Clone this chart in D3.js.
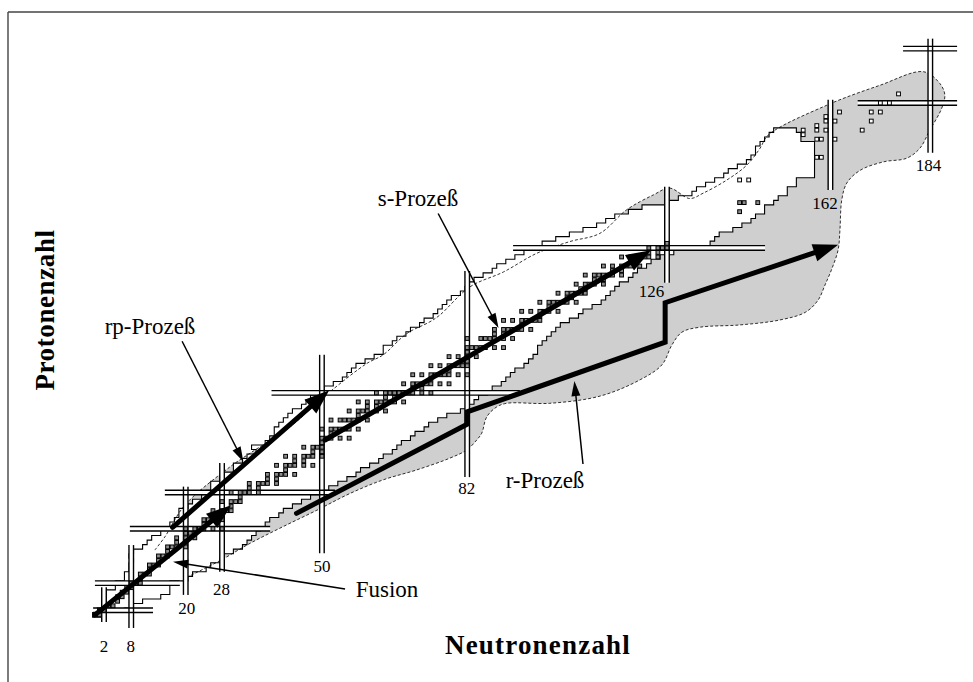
<!DOCTYPE html>
<html>
<head>
<meta charset="utf-8">
<script src="https://cdn.jsdelivr.net/npm/d3@7"></script>
<style>
  body { margin: 0; background: #fff; }
  svg { display: block; }
</style>
</head>
<body>
<div id="chart"></div>
<script>
// known nuclei: for each proton number Z the lightest and heaviest known N
const knownZ = [1, 2, 3, 4, 5, 6, 7, 8, 9, 10, 11, 12, 13, 14, 15, 16, 17, 18, 19, 20,
  21, 22, 23, 24, 25, 26, 27, 28, 29, 30, 31, 32, 33, 34, 35, 36, 37, 38, 39, 40,
  41, 42, 43, 44, 45, 46, 47, 48, 49, 50, 51, 52, 53, 54, 55, 56, 57, 58, 59, 60,
  61, 62, 63, 64, 65, 66, 67, 68, 69, 70, 71, 72, 73, 74, 75, 76, 77, 78, 79, 80,
  81, 82, 83, 84, 85, 86, 87, 88, 89, 90, 91, 92, 93, 94, 95, 96, 97, 98, 99, 100,
  101, 102, 103, 104, 105, 106, 107, 108];
const knownNmin = [0, 1, 2, 2, 3, 3, 5, 5, 7, 7, 8, 8, 9, 8, 9, 11, 12, 13, 15, 15,
  17, 18, 19, 19, 21, 22, 24, 25, 26, 26, 28, 29, 31, 31, 33, 34, 36, 35, 38, 39,
  40, 40, 41, 42, 43, 44, 46, 47, 48, 51, 51, 53, 55, 56, 57, 58, 60, 62, 64, 64,
  66, 67, 69, 70, 72, 73, 75, 76, 77, 78, 79, 81, 82, 83, 84, 86, 88, 89, 91, 93,
  95, 97, 99, 102, 105, 108, 111, 113, 115, 118, 121, 126, 129, 132, 133, 135, 137, 139, 140, 142,
  144, 145, 146, 146, 147, 148, 149, 150];
const knownNmax = [2, 6, 8, 10, 14, 16, 16, 16, 20, 21, 24, 25, 27, 28, 30, 32, 33, 34, 35, 36,
  37, 38, 40, 41, 43, 45, 47, 49, 51, 53, 55, 57, 58, 60, 62, 63, 65, 66, 67, 69,
  70, 72, 73, 75, 77, 80, 82, 83, 84, 86, 87, 89, 90, 91, 92, 94, 95, 96, 97, 97,
  98, 99, 100, 101, 102, 104, 106, 107, 109, 111, 112, 113, 114, 115, 117, 118, 119, 121, 122, 124,
  127, 131, 135, 136, 137, 140, 142, 144, 145, 147, 147, 149, 150, 152, 152, 154, 154, 158, 158, 158,
  158, 158, 158, 158, 158, 155, 155, 154];

// single known nuclei outside the main band (superheavy)
const islandN = [142, 144, 156, 156, 159, 159, 161, 161, 163, 159, 160, 163, 161, 159, 160, 164, 171, 173, 171, 169, 177, 173, 175];
const islandZ = [97, 97, 107, 108, 108, 109, 110, 111, 110, 106, 106, 106, 108, 102, 102, 112, 112, 112, 110, 108, 116, 114, 114];

// stable (and long lived) nuclei: N values for each Z
const stableZ = [1, 2, 3, 4, 5, 6, 7, 8, 9, 10, 11, 12, 13, 14, 15, 16, 17, 18, 19, 20,
  21, 22, 23, 24, 25, 26, 27, 28, 29, 30, 31, 32, 33, 34, 35, 36, 37, 38, 39, 40,
  41, 42, 44, 45, 46, 47, 48, 49, 50, 51, 52, 53, 54, 55, 56, 57, 58, 59, 60,
  62, 63, 64, 65, 66, 67, 68, 69, 70, 71, 72, 73, 74, 75, 76, 77, 78, 79, 80,
  81, 82, 83, 90, 92];
const stableN = [[0, 1], [1, 2], [3, 4], [5], [5, 6], [6, 7], [7, 8], [8, 9, 10], [10], [10, 11, 12],
  [12], [12, 13, 14], [14], [14, 15, 16], [16], [16, 17, 18, 20], [18, 20], [18, 20, 22], [20, 21, 22], [20, 22, 23, 24, 26, 28],
  [24], [24, 25, 26, 27, 28], [27, 28], [26, 28, 29, 30], [30], [28, 30, 31, 32], [32], [30, 32, 33, 34, 36], [34, 36], [34, 36, 37, 38, 40],
  [38, 40], [38, 40, 41, 42, 44], [42], [40, 42, 43, 44, 46, 48], [44, 46], [42, 44, 46, 47, 48, 50], [48, 50], [46, 48, 49, 50], [50], [50, 51, 52, 54, 56],
  [52], [50, 52, 53, 54, 55, 56, 58], [52, 54, 55, 56, 57, 58, 60], [58], [56, 58, 59, 60, 62, 64], [60, 62], [58, 60, 62, 63, 64, 65, 66, 68], [64, 66],
  [62, 64, 65, 66, 67, 68, 69, 70, 72, 74], [70, 72], [68, 70, 71, 72, 73, 74, 76, 78], [74], [70, 72, 74, 75, 76, 77, 78, 80, 82], [78],
  [74, 76, 78, 79, 80, 81, 82], [81, 82], [78, 80, 82, 84], [82], [82, 83, 84, 85, 86, 88, 90],
  [82, 85, 86, 87, 88, 90, 92], [88, 90], [88, 90, 91, 92, 93, 94, 96], [94], [90, 92, 94, 95, 96, 97, 98], [98], [94, 96, 98, 99, 100, 102], [100],
  [98, 100, 101, 102, 103, 104, 106], [104, 105], [102, 104, 105, 106, 107, 108], [107, 108], [106, 108, 109, 110, 112], [110, 112],
  [108, 110, 111, 112, 113, 114, 116], [114, 116], [112, 114, 116, 117, 118, 120], [118], [116, 118, 119, 120, 121, 122, 124],
  [122, 124], [122, 124, 125, 126], [126], [142], [142, 143, 146]];

// drip lines (N, Z), proton side from lower left round to the neutron side
const dripN = [13.2, 15.4, 19.8, 29.8, 34.2, 43.0, 48.8, 52.2, 59.9, 63.5, 68.7, 73.8, 76.0, 82.6, 90.0, 97.3,
  104.6, 111.2, 117.1, 123.0, 126.6, 131.0, 134.0, 139.2, 143.6, 146.5, 148.3, 161.2, 172.9, 182.5,
  186.1, 187.2, 186.5, 183.9, 181.7, 178.8, 173.7, 168.5, 165.6, 164.5, 164.1, 163.7, 162.4, 160.8,
  159.3, 156.5, 150.9, 142.1, 133.3, 129.3, 127.1, 124.9, 120.1, 111.3, 100.2, 90.7, 88.5, 86.3,
  85.2, 84.1, 81.9, 78.2, 70.9, 63.5, 56.2, 48.9, 41.5, 34.2, 27.8, 22.7, 20.5];
const dripZ = [15.3, 18.2, 25.2, 33.7, 36.7, 42.5, 47.7, 50.6, 56.5, 58.4, 63.1, 65.7, 67.2, 73.4, 76.7, 80.8,
  83.4, 85.2, 90.4, 93.7, 95.2, 92.9, 94.1, 97.0, 100.3, 104.0, 106.9, 113.5, 117.9, 120.9,
  118.3, 115.8, 112.8, 108.0, 104.0, 101.8, 101.0, 99.1, 96.3, 92.6, 86.0, 81.6, 77.6, 73.8,
  70.5, 67.8, 66.1, 65.0, 64.5, 63.4, 60.6, 56.2, 52.9, 49.3, 47.7, 47.7, 46.9, 44.7,
  41.1, 39.6, 37.4, 35.6, 33.0, 30.8, 27.8, 24.1, 20.5, 16.8, 13.1, 10.5, 9.4];

// magic numbers and the extent of their double lines
const magicN = [2, 8, 20, 28, 50, 82, 126, 162, 184];
const magicNFrom = [-0.6, -1.9, 5.4, 10.5, 14.6, 31.4, 74.3, 94.8, 103];
const magicNTo = [7.1, 16.4, 29.3, 34.5, 58.4, 76.9, 95.5, 114.7, 128.2];
const magicNLabelN = [2, 7.9, 20.2, 27.9, 50, 81.9, 122.6, 160.8, 183.6];
const magicNLabelZ = [-6.0, -6.0, 2.4, 6.5, 11.6, 28.9, 72.3, 91.8, 100.1];
const magicZ = [2, 8, 20, 28, 50, 82, 114, 126];
const magicZFrom = [-0.4, 0, 7.7, 15.4, 38.9, 92.1, 168, 178];
const magicZTo = [12.8, 18.7, 38.6, 52.9, 93.6, 147.6, 189.9, 189.9];

// process paths (N, Z)
const fusionPath = [[0, 1], [30.0, 25.2]];
const rpPath = [[17.1, 20.3], [51.6, 50.6]];
const sPath = [[50.7, 39.6], [122.5, 81.5]];
const rPath = [[44.4, 23.4], [82, 43.1], [82, 45.8], [125.6, 61.2], [125.6, 69.9], [163.7, 82.7]];

// label pointers (N, Z)
const rpPointer = [[19.2, 61.4], [32.7, 34.8]];
const sPointer = [[75.6, 89.6], [88.9, 64.3]];
const rPointer = [[107.5, 34.3], [105.6, 52.6]];
const fusionPointer = [[55.1, 6.7], [17.2, 12.7]];

const width = 973;
const height = 682;

const svg = d3
  .select("#chart")
  .append("svg")
  .attr("width", width)
  .attr("height", height);

const x = d3.scaleLinear().domain([2, 184]).range([104, 930.3]);
const y = d3.scaleLinear().domain([2, 126]).range([610.3, 48.6]);
const line = d3.line().x((d) => x(d[0])).y((d) => y(d[1]));

// frame (top and left only)
svg.append("line").attr("x1", 8).attr("y1", 12).attr("x2", width).attr("y2", 12)
  .attr("stroke", "#444").attr("stroke-width", 1.4);
svg.append("line").attr("x1", 8).attr("y1", 12).attr("x2", 8).attr("y2", height)
  .attr("stroke", "#444").attr("stroke-width", 1.4);

// gray area between drip lines
const drip = dripN.map((n, i) => [n, dripZ[i]]);
const dripCurve = d3.line().x((d) => x(d[0])).y((d) => y(d[1])).curve(d3.curveCatmullRom.alpha(0.5));
svg.append("path").attr("d", dripCurve(drip) + "Z").attr("fill", "#cfcfcf");

// known nuclei band
const outline = [];
knownZ.forEach((z, i) => {
  outline.push([knownNmax[i] + 0.5, z - 0.5], [knownNmax[i] + 0.5, z + 0.5]);
});
for (let i = knownZ.length - 1; i >= 0; i--) {
  outline.push([knownNmin[i] - 0.5, knownZ[i] + 0.5], [knownNmin[i] - 0.5, knownZ[i] - 0.5]);
}
svg.append("path").attr("d", line(outline) + "Z")
  .attr("fill", "#fff").attr("stroke", "#000").attr("stroke-width", 1.1)
  .attr("stroke-linejoin", "miter");

// drip line dashes
svg.append("path").attr("d", dripCurve(drip))
  .attr("fill", "none").attr("stroke", "#000").attr("stroke-width", 0.8)
  .attr("stroke-dasharray", "3,2");

// magic numbers: white bands first, then the lines
const magic = svg.append("g");
magicZ.forEach((z, i) => {
  magic.append("rect").attr("x", x(magicZFrom[i])).attr("y", y(z + 0.5))
    .attr("width", x(magicZTo[i]) - x(magicZFrom[i])).attr("height", y(z - 0.5) - y(z + 0.5))
    .attr("fill", "#fff");
});
magicN.forEach((n, i) => {
  magic.append("rect").attr("x", x(n - 0.5)).attr("y", y(magicNTo[i]))
    .attr("width", x(n + 0.5) - x(n - 0.5)).attr("height", y(magicNFrom[i]) - y(magicNTo[i]))
    .attr("fill", "#fff");
});
magicZ.forEach((z, i) => {
  [z - 0.5, z + 0.5].forEach((v) => {
    magic.append("line").attr("x1", x(magicZFrom[i])).attr("x2", x(magicZTo[i]))
      .attr("y1", y(v)).attr("y2", y(v)).attr("stroke", "#000").attr("stroke-width", 1.4);
  });
});
magicN.forEach((n, i) => {
  [n - 0.5, n + 0.5].forEach((v) => {
    magic.append("line").attr("x1", x(v)).attr("x2", x(v))
      .attr("y1", y(magicNFrom[i])).attr("y2", y(magicNTo[i])).attr("stroke", "#000").attr("stroke-width", 1.4);
  });
  magic.append("text").attr("x", x(magicNLabelN[i])).attr("y", y(magicNLabelZ[i]))
    .attr("text-anchor", "middle").attr("dominant-baseline", "central")
    .style("font-family", "'Liberation Serif', serif").style("font-size", "17px")
    .text(n);
});

// nuclei squares
const sq = 3.8;
const stable = [];
stableZ.forEach((z, i) => stableN[i].forEach((n) => stable.push([n, z])));
svg.selectAll(".stable").data(stable).enter().append("rect")
  .attr("class", "stable")
  .attr("x", (d) => x(d[0]) - sq / 2).attr("y", (d) => y(d[1]) - sq / 2)
  .attr("width", sq).attr("height", sq)
  .attr("fill", "#8c8c8c").attr("stroke", "#000").attr("stroke-width", 1);

svg.selectAll(".island").data(islandN).enter().append("rect")
  .attr("class", "island")
  .attr("x", (d) => x(d) - sq / 2).attr("y", (d, i) => y(islandZ[i]) - sq / 2)
  .attr("width", sq).attr("height", sq)
  .attr("fill", "#fff").attr("stroke", "#000").attr("stroke-width", 1);

// arrows
function arrow(pts, w, len, half, cap) {
  const p = pts.map((d) => [x(d[0]), y(d[1])]);
  const [tx, ty] = p[p.length - 1];
  const [px, py] = p[p.length - 2];
  const dist = Math.hypot(tx - px, ty - py);
  const ux = (tx - px) / dist;
  const uy = (ty - py) / dist;
  const bx = tx - ux * len;
  const by = ty - uy * len;
  const body = p.slice(0, -1).concat([[tx - ux * len * 0.8, ty - uy * len * 0.8]]);
  svg.append("path").attr("d", d3.line()(body))
    .attr("fill", "none").attr("stroke", "#000").attr("stroke-width", w)
    .attr("stroke-linecap", cap).attr("stroke-linejoin", "miter");
  svg.append("path")
    .attr("d", d3.line()([[tx, ty], [bx - uy * half, by + ux * half], [bx + uy * half, by - ux * half]]) + "Z")
    .attr("fill", "#000");
}

arrow(fusionPath, 5, 25, 9, "round");
arrow(rpPath, 5, 25, 9, "round");
arrow(sPath, 5, 25, 9, "round");
arrow(rPath, 5, 25, 9, "round");

arrow(rpPointer, 1.5, 15, 4.5, "butt");
arrow(sPointer, 1.5, 15, 4.5, "butt");
arrow(rPointer, 1.5, 15, 4.5, "butt");
arrow(fusionPointer, 1.5, 15, 4.5, "butt");

// labels
const labels = [
  { text: "rp-Prozeß", x: 150, y: 334 },
  { text: "s-Prozeß", x: 418, y: 206 },
  { text: "r-Prozeß", x: 545, y: 488 },
  { text: "Fusion", x: 387, y: 597 },
];
labels.forEach((l) => {
  svg.append("text").attr("x", l.x).attr("y", l.y).attr("text-anchor", "middle")
    .style("font-family", "'Liberation Serif', serif").style("font-size", "23px")
    .text(l.text);
});

svg.append("text").attr("x", 538).attr("y", 654).attr("text-anchor", "middle")
  .style("font-family", "'Liberation Serif', serif").style("font-size", "27px")
  .style("font-weight", "bold").style("letter-spacing", "1.2px").text("Neutronenzahl");

svg.append("text").attr("transform", "translate(54, 310) rotate(-90)")
  .attr("text-anchor", "middle")
  .style("font-family", "'Liberation Serif', serif").style("font-size", "27px")
  .style("font-weight", "bold").style("letter-spacing", "0.6px").text("Protonenzahl");
</script>
</body>
</html>
